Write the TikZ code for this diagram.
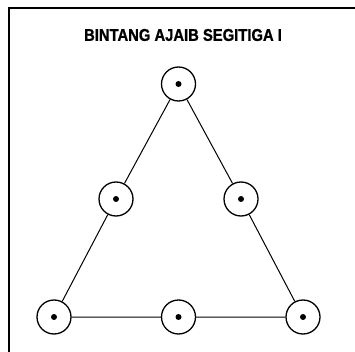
\documentclass[tikz,border=0pt]{standalone}
\usepackage{fontspec}
\setmainfont{Liberation Sans}
\usepackage{tikz}
\usetikzlibrary{positioning,calc}

\begin{document}
\begin{tikzpicture}[
      x=1pt,y=1pt,
      every node/.style={font=\bfseries},
      titik/.style={draw,circle,line width=1.3pt,inner sep=0pt,minimum size=34pt,fill=white,
        path picture={\fill[black] (path picture bounding box.center) circle (3pt);}},
      sisi/.style={line width=1pt},
    ]
  \useasboundingbox (0,0) rectangle (355,-352);

  % bingkai
  \coordinate (kb) at (9,-352);
  \coordinate (ka) at (9,-8);
  \coordinate (kk) at (355,-8);
  \draw[line width=1.5pt] (kb) -- (ka) -- (kk);

  \node[inner sep=0pt] (judul) at (183,-35)
    {\scalebox{0.87}[1]{\fontsize{17}{19}\selectfont\bfseries\addfontfeature{FakeBold=1.2}BINTANG AJAIB SEGITIGA I}};

  \node[titik] (a)  at (178.5,-84)  {};
  \node[titik] (kl) at (116,-199) {};
  \node[titik] (kn) at (241,-199) {};
  \node[titik] (bl) at (54,-317)  {};
  \node[titik] (bt) at (178.5,-317) {};
  \node[titik] (bn) at (303,-317) {};

  % sisi segitiga
  \draw[sisi] (a) -- (kl) -- (bl) -- (bt) -- (bn) -- (kn) -- (a);
\end{tikzpicture}
\end{document}
